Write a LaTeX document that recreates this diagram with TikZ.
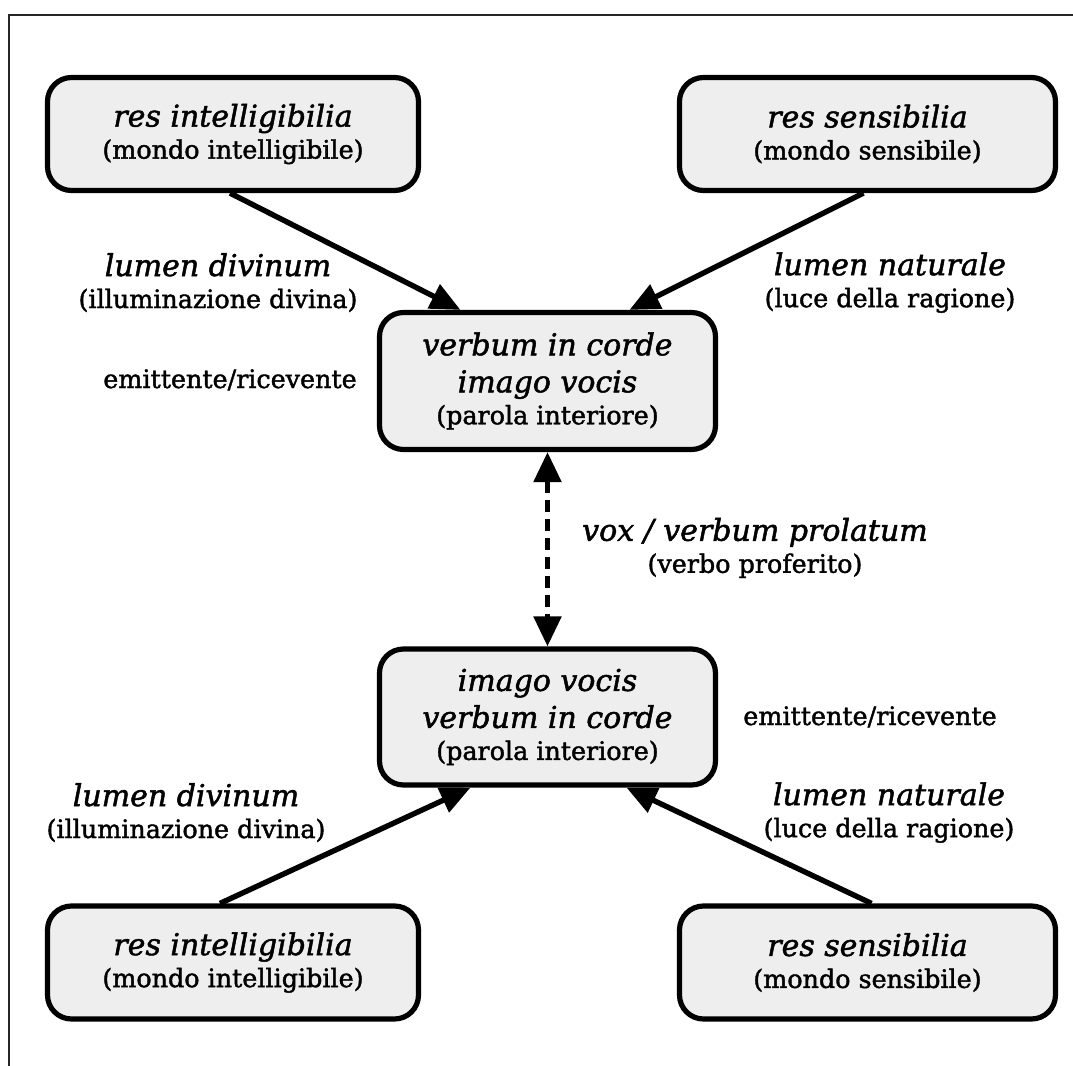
\documentclass[tikz,border=0pt]{standalone}
\usepackage{fontspec}
\setmainfont{DejaVu Serif}[FakeBold=1.6]
\usetikzlibrary{arrows.meta,calc}
\definecolor{boxfill}{HTML}{EEEEEE}
\newcommand\itl{\fontsize{15}{18.5}\selectfont\itshape}
\newcommand\upl{\fontsize{12.7}{16}\selectfont\upshape}
\tikzset{
  concept/.style={draw=black, line width=2.6pt, fill=boxfill, rounded corners=12pt,
    align=center, font=\upl, inner sep=0pt, minimum height=56.5pt},
  caption/.style={align=center, font=\upl, inner sep=0pt},
  flow/.style={line width=2.7pt, -{Triangle[length=15pt,width=13pt]}},
  speech/.style={line width=2.7pt, dash pattern=on 6pt off 3.5pt,
    {Triangle[length=15pt,width=13.5pt]}-{Triangle[length=15pt,width=13.5pt]}},
  frameline/.style={line width=0.8pt, draw=black!85}
}
\begin{document}
\begin{tikzpicture}[x=0.5pt, y=-0.5pt]
\useasboundingbox (0,0) rectangle (1073,1066);
\draw[frameline] (1073,15) -- (9,15) -- (9,1066);

% upper half
\node[concept, minimum width=185.5pt] (tl) at (233,134)
  {{\itl res intelligibilia}\\(mondo intelligibile)};
\node[concept, minimum width=188pt] (tr) at (867.5,134)
  {{\itl res sensibilia}\\(mondo sensibile)};
\node[concept, minimum width=168pt, minimum height=68.5pt] (mt) at (547.5,381)
  {{\itl verbum in corde}\\[2.5pt]{\itl imago vocis}\\(parola interiore)};

% lower half
\node[concept, minimum width=168pt, minimum height=68pt] (mb) at (547.5,717)
  {{\itl imago vocis}\\[2.5pt]{\itl verbum in corde}\\(parola interiore)};
\node[concept, minimum width=185.5pt] (bl) at (233,962.5)
  {{\itl res intelligibilia}\\(mondo intelligibile)};
\node[concept, minimum width=188pt] (br) at (867.5,962.5)
  {{\itl res sensibilia}\\(mondo sensibile)};

% labels
\node[caption] (ldt) at (218,282.6) {{\itl lumen divinum}\\(illuminazione divina)};
\node[caption] (lnt) at (890,282.6) {{\itl lumen naturale}\\(luce della ragione)};
\node[caption, anchor=base] (ert) at (230,388) {emittente/ricevente};
\node[caption] (vox) at (755,548) {{\itl vox / verbum prolatum}\\(verbo proferito)};
\node[caption, anchor=base] (erb) at (870,725) {emittente/ricevente};
\node[caption] (ldb) at (186,812.6) {{\itl lumen divinum}\\(illuminazione divina)};
\node[caption] (lnb) at (889,812.6) {{\itl lumen naturale}\\(luce della ragione)};

% connectors
\draw[flow] ($(tl.south)+(-3,0)$) -- ($(mt.north)+(-87,0)$);
\draw[flow] ($(tr.south)+(-4,0)$) -- ($(mt.north)+(82,0)$);
\draw[speech] (mt.south) -- (mb.north);
\draw[flow] ($(bl.north)+(-13,0)$) -- ($(mb.south)+(-77,0)$);
\draw[flow] ($(br.north)+(4,0)$) -- ($(mb.south)+(79,0)$);
\end{tikzpicture}
\end{document}
